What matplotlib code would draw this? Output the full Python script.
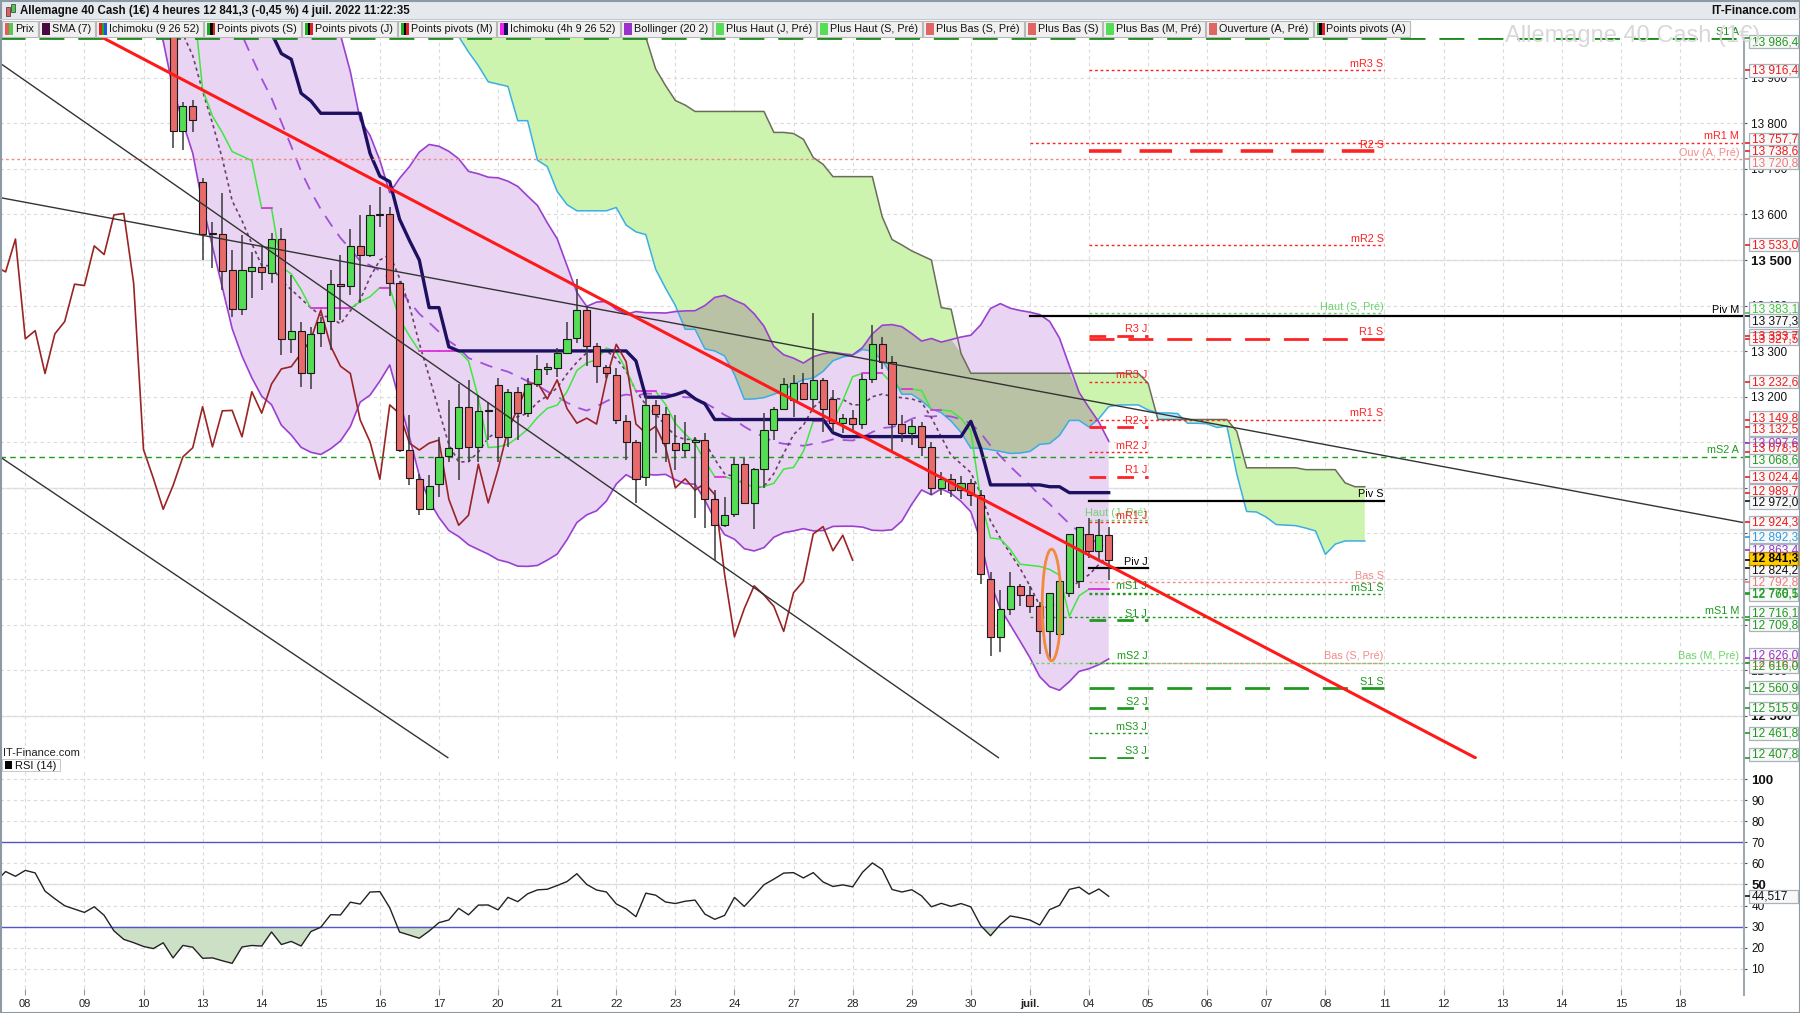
import numpy as np
import pandas as pd
import matplotlib
matplotlib.use("Agg")
import matplotlib.pyplot as plt
from matplotlib.patches import Rectangle, Ellipse
from matplotlib import font_manager

_have = {f.name for f in font_manager.fontManager.ttflist}
FONT = 'Liberation Sans Narrow' if 'Liberation Sans Narrow' in _have else 'Liberation Sans'
plt.rcParams['font.family'] = [FONT, 'DejaVu Sans']

# ---------------- data (4h candles, 6 per day) ----------------
PER_DAY = 6
N_PRE = 36  # candles before 8 June (off screen, needed by the indicators)

day_labels = ["08", "09", "10", "13", "14", "15", "16", "17", "20", "21", "22", "23", "24",
              "27", "28", "29", "30", "juil.", "04", "05", "06", "07", "08", "11", "12",
              "13", "14", "15", "18"]

opens = [
    14470, 14480, 14470, 14440, 14400, 14360,   # 31 mai
    14380, 14400, 14420, 14450, 14520, 14380,   # 01
    14340, 14340, 14330, 14380, 14400, 14470,   # 02
    14490, 14500, 14510, 14480, 14530, 14470,   # 03
    14460, 14520, 14650, 14600, 14560, 14540,   # 06
    14580, 14570, 14540, 14500, 14530, 14580,   # 07
    14560, 14590, 14580, 14500, 14460, 14420,   # 08
    14400, 14380, 14400, 14350, 14230, 14140,   # 09
    14100, 14050, 14020, 14040, 13783, 13839,   # 10
    13672, 13556, 13557, 13478, 13392, 13476,   # 13
    13485, 13471, 13547, 13327, 13345, 13251,   # 14
    13339, 13366, 13447, 13444, 13531, 13511,   # 15
    13599, 13602, 13449, 13083, 13019, 12953,   # 16
    13008, 13070, 13088, 13178, 13090, 13169,   # 17
    13226, 13112, 13211, 13164, 13228, 13261,   # 20
    13264, 13297, 13328, 13390, 13311, 13266,   # 21
    13248, 13147, 13101, 13024, 13182, 13161,   # 22
    13098, 13083, 13101, 13105, 12975, 12918,   # 23
    12942, 13052, 12967, 13041, 13127, 13174,   # 24
    13193, 13231, 13195, 13237, 13195, 13142,   # 27
    13153, 13140, 13239, 13315, 13277, 13140,   # 28
    13120, 13135, 13090, 13000, 13020, 12995,   # 29
    13010, 12985, 12800, 12673, 12735, 12785,   # 30
    12765, 12740, 12685, 12680, 12770, 12795,   # 01 juil.
    12899, 12862, 12896,                        # 04
]
highs = [
    14500, 14495, 14490, 14460, 14430, 14400,
    14420, 14440, 14560, 14580, 14530, 14400,
    14370, 14360, 14400, 14420, 14490, 14510,
    14520, 14540, 14560, 14550, 14540, 14490,
    14530, 14760, 14740, 14640, 14600, 14600,
    14600, 14590, 14560, 14560, 14712, 14620,
    14620, 14615, 14590, 14510, 14480, 14426,
    14420, 14415, 14410, 14426, 14250, 14150,
    14126, 14100, 14080, 14060, 13847, 13851,
    13679, 13584, 13648, 13522, 13555, 13518,
    13533, 13560, 13570, 13467, 13365, 13354,
    13376, 13479, 13511, 13568, 13599, 13621,
    13661, 13617, 13455, 13160, 13030, 13028,
    13112, 13193, 13227, 13237, 13204, 13189,
    13240, 13218, 13222, 13240, 13292, 13273,
    13306, 13365, 13458, 13400, 13317, 13270,
    13262, 13160, 13105, 13207, 13193, 13178,
    13160, 13145, 13112, 13121, 12995, 12981,
    13065, 13065, 13043, 13164, 13178, 13240,
    13248, 13251, 13383, 13240, 13215, 13163,
    13170, 13250, 13357, 13330, 13290, 13160,
    13150, 13145, 13100, 13035, 13030, 13025,
    13020, 12995, 12815, 12775, 12815, 12790,
    12785, 12750, 12760, 12780, 12800, 12905,
    12933, 12931, 12915,
]
lows = [
    14440, 14450, 14400, 14360, 14330, 14340,
    14370, 14390, 14410, 14440, 14350, 14300,
    14320, 14310, 14300, 14340, 14380, 14450,
    14480, 14490, 14450, 14460, 14440, 14440,
    14450, 14510, 14580, 14540, 14520, 14530,
    14550, 14520, 14480, 14490, 14520, 14540,
    14540, 14560, 14480, 14440, 14400, 14360,
    14370, 14360, 14340, 14200, 14120, 14080,
    14030, 14000, 13990, 13745, 13741, 13782,
    13500, 13482, 13434, 13376, 13379, 13416,
    13434, 13450, 13291, 13295, 13222, 13218,
    13310, 13302, 13368, 13423, 13406, 13507,
    13573, 13420, 13079, 13006, 12940, 12951,
    12981, 13057, 13017, 13057, 13057, 13105,
    13057, 13090, 13105, 13156, 13222, 13248,
    13244, 13294, 13317, 13267, 13231, 13240,
    13140, 13061, 12966, 13003, 13076, 13057,
    13039, 13068, 12933, 12911, 12842, 12915,
    12935, 12966, 12909, 13000, 13105, 13171,
    13156, 13193, 13174, 13123, 13123, 13120,
    13125, 13130, 13230, 13260, 13076, 13100,
    13095, 13070, 12985, 12985, 12980, 12975,
    12960, 12790, 12630, 12640, 12720, 12740,
    12725, 12635, 12622, 12660, 12760, 12780,
    12845, 12843, 12798,
]
closes = [
    14480, 14470, 14440, 14400, 14360, 14380,
    14400, 14420, 14450, 14520, 14380, 14340,
    14340, 14330, 14380, 14400, 14470, 14490,
    14500, 14510, 14480, 14530, 14470, 14460,
    14520, 14650, 14600, 14560, 14540, 14580,
    14570, 14540, 14500, 14530, 14580, 14560,
    14590, 14580, 14500, 14460, 14420, 14400,
    14380, 14400, 14350, 14230, 14140, 14100,
    14050, 14020, 14040, 13783, 13839, 13807,
    13556, 13558, 13476, 13392, 13477, 13485,
    13474, 13546, 13327, 13345, 13251, 13338,
    13365, 13447, 13444, 13531, 13512, 13599,
    13602, 13449, 13084, 13021, 12953, 13005,
    13068, 13088, 13178, 13090, 13169, 13170,
    13112, 13211, 13164, 13228, 13261, 13266,
    13295, 13326, 13390, 13311, 13267, 13251,
    13149, 13101, 13019, 13182, 13163, 13098,
    13083, 13098, 13105, 12975, 12918, 12940,
    13052, 12967, 13041, 13127, 13174, 13227,
    13231, 13195, 13237, 13174, 13142, 13153,
    13140, 13239, 13315, 13277, 13140, 13120,
    13135, 13090, 13000, 13020, 12995, 13010,
    12985, 12810, 12673, 12735, 12785, 12765,
    12740, 12685, 12770, 12795, 12899, 12915,
    12862, 12896, 12841.3,
]

# trend lines drawn on the chart: (x0, x1) in candles, (y0, y1) in points
trend_red = ([7.9, 147.2], [13987.5, 12408.0])
trend_black = [([-2.57, 98.8], [13932.0, 12408.0]),
               ([-2.57, 42.9], [13068.0, 12408.0]),
               ([-2.57, 174.4], [13637.0, 12924.0])]

# pivot levels
piv_names = ["S1 A", "mR3 S", "mR1 M", "R2 S", "Ouv (A, Pré)", "mR2 S", "Haut (S, Pré)", "Piv M",
             "R3 J", "R1 S", "mR3 J", "mR1 S", "R2 J", "mR2 J", "mS2 A", "R1 J", "Piv S",
             "Haut (J, Pré)", "mR1 J", "Piv J", "Bas S", "mS1 J", "mS1 S", "mS1 M", "S1 J",
             "Bas (S, Pré)", "mS2 J", "Bas (M, Pré)", "S1 S", "S2 J", "mS3 J", "S3 J"]
piv_levels = [13986.4, 13916.4, 13757.7, 13738.6, 13720.8, 13533.0, 13383.1, 13377.3,
              13333.7, 13327.5, 13232.6, 13149.8, 13132.5, 13078.5, 13068.6, 13024.4, 12972.0,
              12930.0, 12924.3, 12824.2, 12792.8, 12770.1, 12766.5, 12716.1, 12709.8,
              12616.5, 12616.0, 12616.0, 12560.9, 12515.9, 12461.8, 12407.8]
piv_period = ['A', 'S', 'M', 'S', 'A', 'S', 'S', 'M', 'J', 'S', 'J', 'S', 'J', 'J', 'A', 'J', 'S',
              'J', 'J', 'J', 'S', 'J', 'S', 'M', 'J', 'S', 'J', 'M', 'S', 'J', 'J', 'J']

# boxed values on the price scale
tag_values = [13986.4, 13916.4, 13757.7, 13738.6, 13720.8, 13533.0, 13383.1, 13377.3, 13333.7,
              13327.5, 13232.6, 13149.8, 13132.5, 13097.6, 13078.5, 13068.6, 13024.4, 12989.7,
              12972.0, 12924.3, 12892.3, 12863.4, 12841.3, 12824.2, 12792.8, 12770.1, 12766.5,
              12716.1, 12709.8, 12626.0, 12616.5, 12616.0, 12560.9, 12515.9, 12461.8, 12407.8]
tag_kind = ['g', 'r', 'r', 'r', 'lr', 'r', 'lg', 'k', 'r', 'r', 'r', 'r', 'r', 'p', 'r', 'g', 'r', 'r',
            'k', 'r', 'b', 'p', 'last', 'k', 'lr', 'g', 'g', 'g', 'g', 'p', 'lr', 'g', 'g', 'g', 'g', 'g']
tag_hidden = [13333.7, 13097.6, 12863.4, 12770.1, 12616.5]
rsi_last = 44.517

legend_items = [("Prix", ['#e06060', '#50cc50']), ("SMA (7)", ['#4a0a40']),
                ("Ichimoku (9 26 52)", ['#dd2222', '#22aa22', '#2255dd']),
                ("Points pivots (S)", ['#22aa22', '#000000', '#dd2222']),
                ("Points pivots (J)", ['#22aa22', '#000000', '#dd2222']),
                ("Points pivots (M)", ['#22aa22', '#000000', '#dd2222']),
                ("Ichimoku (4h 9 26 52)", ['#ee22ee', '#1a0f5c']),
                ("Bollinger (20 2)", ['#9933cc']), ("Plus Haut (J, Pré)", ['#55dd55']),
                ("Plus Haut (S, Pré)", ['#55dd55']), ("Plus Bas (S, Pré)", ['#e06666']),
                ("Plus Bas (S)", ['#e06666']), ("Plus Bas (M, Pré)", ['#55dd55']),
                ("Ouverture (A, Pré)", ['#e06666']),
                ("Points pivots (A)", ['#22aa22', '#000000', '#dd2222'])]

# ---------------- indicators ----------------
o = np.array(opens, float); h = np.array(highs, float)
l = np.array(lows, float); c = np.array(closes, float)
idx = np.arange(len(c)) - N_PRE
cs, hs, ls = pd.Series(c), pd.Series(h), pd.Series(l)

sma7 = cs.rolling(7).mean().values
bb_mid = cs.rolling(20).mean().values
bb_sd = cs.rolling(20).std(ddof=0).values
bb_up, bb_lo = bb_mid + 2 * bb_sd, bb_mid - 2 * bb_sd
tenkan = ((hs.rolling(9).max() + ls.rolling(9).min()) / 2).values
kijun = ((hs.rolling(26).max() + ls.rolling(26).min()) / 2).values
span_a = (tenkan + kijun) / 2
span_b = ((hs.rolling(52).max() + ls.rolling(52).min()) / 2).values

delta = cs.diff()
ag = delta.clip(lower=0).ewm(alpha=1 / 14, adjust=False).mean()
al = (-delta).clip(lower=0).ewm(alpha=1 / 14, adjust=False).mean()
rsi = (100 - 100 / (1 + ag / al)).values

# ---------------- figure layout (pixels) ----------------
W, H = 1800, 1013
P_TOP, P_BOT, R_TOP, R_BOT, X_RIGHT = 38, 759, 771, 995, 1743
YMIN, YMAX = 12405.0, 13987.2
XMIN, XMAX = -2.57, 174.4
RMIN, RMAX = -2.4, 103.8

fig = plt.figure(figsize=(W / 100, H / 100), dpi=100)
ax = fig.add_axes([0, 1 - P_BOT / H, X_RIGHT / W, (P_BOT - P_TOP) / H])
rx = fig.add_axes([0, 1 - R_BOT / H, X_RIGHT / W, (R_BOT - R_TOP) / H])
ov = fig.add_axes([0, 0, 1, 1], zorder=10)
ov.set_xlim(0, W); ov.set_ylim(H, 0); ov.axis('off'); ov.patch.set_alpha(0)

day_pos = np.arange(len(day_labels)) * PER_DAY
for a in (ax, rx):
    a.set_xlim(XMIN, XMAX)
    for s in a.spines.values():
        s.set_visible(False)
    a.set_xticks(day_pos)
    a.grid(True, color='#dadada', lw=0.8, ls=(0, (3, 3)))
    a.set_axisbelow(True)
    a.yaxis.tick_right()
    a.tick_params(axis='y', direction='out', length=3, color='#555', pad=3,
                  labelsize=8.5, labelcolor='#111')
ax.tick_params(axis='x', length=0, labelbottom=False)
ax.set_ylim(YMIN, YMAX)
pt = np.arange(12500, 14000, 100)
ax.set_yticks(pt)
ax.set_yticklabels([f"{v:,}".replace(',', ' ') for v in pt])
for t, v in zip(ax.get_yticklabels(), pt):
    if v % 500 == 0:
        t.set_fontweight('bold'); t.set_fontsize(9.5)
for v in (12500, 13000, 13500):
    ax.axhline(v, color='#e3e3e3', lw=1, zorder=0.5)

rx.set_ylim(RMIN, RMAX)
rt = np.arange(10, 101, 10)
rx.set_yticks(rt)
rx.set_yticklabels([str(v) for v in rt])
for t, v in zip(rx.get_yticklabels(), rt):
    if v in (50, 100):
        t.set_fontweight('bold'); t.set_fontsize(9.5)
rx.axhline(50, color='#e3e3e3', lw=1, zorder=0.5)
rx.set_xticklabels(day_labels, fontsize=8, color='#222')
rx.get_xticklabels()[day_labels.index("juil.")].set_fontweight('bold')
rx.tick_params(axis='x', direction='in', length=4, color='#999', pad=3)

# ---------------- price pane ----------------
v = idx >= -4
x = idx[v]
# ichimoku cloud (shifted 26 ahead)
xc = idx + 26
ok = ~np.isnan(span_a) & ~np.isnan(span_b) & (xc >= -4)
ax.fill_between(xc[ok], span_a[ok], span_b[ok], where=span_b[ok] >= span_a[ok],
                interpolate=True, color='#ccf4ae', lw=0, zorder=1)
ax.fill_between(xc[ok], span_a[ok], span_b[ok], where=span_a[ok] > span_b[ok],
                interpolate=True, color='#b6eaf7', lw=0, zorder=1)
# bollinger fill
ax.fill_between(x, bb_lo[v], bb_up[v], color='#e9d4f3', lw=0, zorder=1.1)
# overlap bollinger / cloud
n_ext = len(c) + 26
a_al = np.full(n_ext, np.nan); b_al = np.full(n_ext, np.nan)
a_al[26:] = span_a; b_al[26:] = span_b
a_al, b_al = a_al[:len(c)], b_al[:len(c)]
c_lo = np.fmin(a_al, b_al); c_hi = np.fmax(a_al, b_al)
o_lo = np.maximum(bb_lo, c_lo); o_hi = np.minimum(bb_up, c_hi)
okk = v & ~np.isnan(o_lo) & ~np.isnan(o_hi)
ax.fill_between(idx[okk], o_lo[okk], o_hi[okk], where=o_hi[okk] > o_lo[okk],
                interpolate=True, color='#bac2a5', lw=0, zorder=1.2)

ax.plot(xc[ok], span_a[ok], color='#3aaee6', lw=1.1, zorder=1.5)
ax.plot(xc[ok], span_b[ok], color='#6c6c5c', lw=1.1, zorder=1.5)
ax.plot(x, bb_up[v], color='#9a40d0', lw=1.2, zorder=2)
ax.plot(x, bb_lo[v], color='#9a40d0', lw=1.2, zorder=2)
ax.plot(x, bb_mid[v], color='#a24fdc', lw=1.3, dashes=(7, 5), zorder=2)
ax.plot(x, sma7[v], color='#6a4068', lw=1.2, dashes=(2, 2), zorder=2)
ax.plot(x, tenkan[v], color='#3ee83e', lw=1.1, zorder=2.1)
tv = tenkan[v]
for i in range(len(x) - 1):
    if tv[i] == tv[i + 1]:
        ax.plot([x[i], x[i + 1]], [tv[i], tv[i]], color='#ee22ee', lw=1.2, zorder=2.15)
ax.plot(x, kijun[v], color='#1c1060', lw=2.4, zorder=2.2)
xk = idx - 26
kk = xk >= -4
ax.plot(xk[kk], c[kk], color='#9a2424', lw=1.2, zorder=2.2)

# candles
up = c >= o
body_lo = np.minimum(o, c)
body_h = np.maximum(np.abs(c - o), 2.5)
ax.vlines(x, l[v], h[v], color='#3a3a3a', lw=1.1, zorder=3)
ax.bar(x, body_h[v], bottom=body_lo[v], width=0.72,
       color=np.where(up, '#55dd55', '#e86a6a')[v], edgecolor='#1a1a1a', linewidth=0.8, zorder=3.1)

# pivot lines
per_start = {'J': 108, 'S': 108, 'M': 102, 'A': XMIN}
per_end = {'J': 114, 'S': 138, 'M': XMAX, 'A': XMAX}
RED, GREEN, LRED, LGREEN = '#ff2222', '#1f9a1f', '#f28a8a', '#6cd46c'
for name, lvl, per in zip(piv_names, piv_levels, piv_period):
    if name.startswith('Piv'):
        col, kw = '#000000', dict(lw=1.6, ls='-')
    elif name.startswith('mR'):
        col, kw = RED, dict(lw=1.0, dashes=(2, 2))
    elif name == 'mS2 A':
        col, kw = GREEN, dict(lw=1.0, dashes=(4, 3))
    elif name.startswith('mS'):
        col, kw = GREEN, dict(lw=1.0, dashes=(2, 2))
    elif name.startswith('R'):
        col, kw = RED, dict(lw=2.6 if name == 'R2 S' else 2.0, dashes=(6, 4) if per == 'J' else (9, 5))
    elif name.startswith('S'):
        col, kw = ('#1a8a1a' if per == 'A' else GREEN), dict(lw=2.0, dashes=(6, 4) if per == 'J' else (9, 5))
    elif name.startswith('Haut') or name.startswith('Bas (M'):
        col, kw = LGREEN, dict(lw=1.0, dashes=(2, 2))
    else:
        col, kw = LRED, dict(lw=1.0, dashes=(2, 2))
    xs, xe = per_start[per], per_end[per]
    ax.plot([xs, xe], [lvl, lvl], color=col, zorder=2.5, **kw)
    ax.annotate(name, xy=(xe - (0.4 if per in 'MA' else 0.1), lvl), xytext=(0, 1),
                textcoords='offset points', ha='right', va='bottom', fontsize=7.8,
                color=col, zorder=2.6, annotation_clip=False)

# trend lines
for xx, yy in trend_black:
    ax.plot(xx, yy, color='#333333', lw=1.0, zorder=4)
ax.plot(trend_red[0], trend_red[1], color='#ff1a1a', lw=2.2, zorder=4)
ax.add_patch(Ellipse((104.2, 12743), 1.9, 245, fill=False, edgecolor='#f08a3c', lw=2, zorder=5))

# ---------------- RSI pane ----------------
rv = idx >= -4
rx.fill_between(idx[rv], rsi[rv], 30, where=rsi[rv] < 30, interpolate=True,
                color='#cbe0c5', lw=0, zorder=1)
rx.axhline(70, color='#5555c8', lw=1, zorder=1.5)
rx.axhline(30, color='#5555c8', lw=1, zorder=1.5)
rx.plot(idx[rv], rsi[rv], color='#222222', lw=1.0, zorder=2)

# ---------------- overlay: scales, header ----------------
def py(p):
    return P_TOP + (YMAX - p) / (YMAX - YMIN) * (P_BOT - P_TOP)

def fmt(val):
    return f"{val:,.1f}".replace(',', ' ').replace('.', ',')

kind_col = {'g': '#1f9a1f', 'r': '#ee1c1c', 'lr': '#ee7a7a', 'lg': '#44c444', 'k': '#111111',
            'p': '#9933cc', 'b': '#2a9be8', 'last': '#000000'}

def tag(y, ytrue, txt, kind):
    col = kind_col[kind]
    ov.plot([X_RIGHT + 1, 1749], [ytrue, ytrue], color=col, lw=1.2)
    face = '#ffcc00' if kind == 'last' else '#f8f8f8'
    edge = '#b08a00' if kind == 'last' else '#a9b3bb'
    ov.add_patch(Rectangle((1749, y - 6.5), 49, 13, facecolor=face, edgecolor=edge, lw=0.9))
    ov.text(1752, y + 0.5, txt, ha='left', va='center', fontsize=8.6, color=col,
            fontweight='bold' if kind == 'last' else 'normal')

vis_tags = [(py(vv), vv, k) for vv, k in zip(tag_values, tag_kind) if vv not in tag_hidden]
ys = [t[0] for t in vis_tags]
gap = 11.8
for _ in range(400):
    moved = False
    for i in range(len(ys) - 1):
        d = ys[i + 1] - ys[i]
        if d < gap - 0.01:
            ys[i] -= (gap - d) / 2; ys[i + 1] += (gap - d) / 2; moved = True
    ys[0] = max(ys[0], 41.5); ys[-1] = min(ys[-1], P_BOT - 5)
    if not moved:
        break
for vv, k in zip(tag_values, tag_kind):
    if vv in tag_hidden:
        tag(py(vv), py(vv), fmt(vv), k)
last = None
for yy, t in zip(ys, vis_tags):
    if t[2] == 'last':
        last = (yy, t)
        continue
    tag(yy, t[0], fmt(t[1]), t[2])
tag(last[0], last[1][0], fmt(last[1][1]), 'last')
ry = R_TOP + (RMAX - rsi_last) / (RMAX - RMIN) * (R_BOT - R_TOP)
tag(ry, ry, f"{rsi_last:.3f}".replace('.', ','), 'k')

ov.plot([X_RIGHT + 0.5] * 2, [P_TOP, R_BOT], color='#9fa9b2', lw=1.5)
ov.text(3, 753, 'IT-Finance.com', fontsize=8, color='#222', va='center')
ov.add_patch(Rectangle((2, 759), 58, 12, facecolor='white', edgecolor='#c8c8c8', lw=0.7))
ov.add_patch(Rectangle((5, 761), 7, 8, facecolor='black'))
ov.text(15, 765.5, 'RSI (14)', fontsize=8, color='#111', va='center')

# header
ov.add_patch(Rectangle((0, 0), W, 19, facecolor='#e5e9ed', edgecolor='none'))
ov.plot([0, W], [19, 19], color='#c3cad1', lw=0.8)
ov.add_patch(Rectangle((6, 7), 3.5, 9, facecolor='#e06060', edgecolor='#333', lw=0.5))
ov.add_patch(Rectangle((11, 4), 3.5, 8, facecolor='#50c850', edgecolor='#333', lw=0.5))
ov.text(20, 10.5, "Allemagne 40 Cash (1€) 4 heures 12 841,3 (-0,45 %) 4 juil. 2022 11:22:35",
        fontsize=8.3, fontweight='bold', va='center', color='#111')
ov.text(1796, 10.5, "IT-Finance.com", fontsize=8.4, fontweight='bold', va='center', ha='right', color='#111')

wm = ov.text(1505, 42, "Allemagne 40 Cash (1€)", fontsize=17, color='#d8d8d8', va='baseline')
clip = Rectangle((1400, 19.5), 400, 18.5, transform=ov.transData)
wm.set_clip_path(clip)

r = fig.canvas.get_renderer()
xcur = 2
for name, cols in legend_items:
    tt = ov.text(xcur + 13, 29, name, fontsize=7.8, va='center', color='#111')
    wtxt = tt.get_window_extent(r).width
    wbox = 13 + wtxt + 4
    ov.add_patch(Rectangle((xcur, 20.5), wbox, 16.5, facecolor='#f0f0f0', edgecolor='#b8b8b8',
                           lw=0.8, zorder=-1))
    sw = 8.0 / len(cols)
    for j, cc in enumerate(cols):
        ov.add_patch(Rectangle((xcur + 3 + j * sw, 23), sw, 12, facecolor=cc, edgecolor='none'))
    xcur += wbox + 1

ov.add_patch(Rectangle((0.5, 0.5), W - 1, H - 1, fill=False, edgecolor='#8c9aa6', lw=1.5))

fig.savefig('out.png', dpi=100)
